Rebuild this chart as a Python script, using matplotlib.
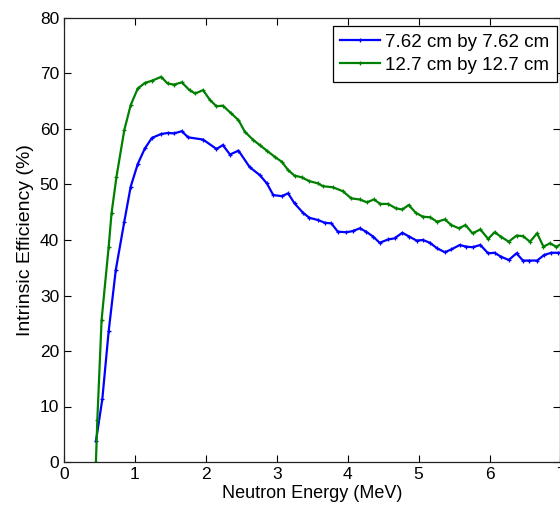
import numpy as np
import matplotlib
matplotlib.use("Agg")
import matplotlib.pyplot as plt

plt.rcParams['font.family'] = ['Liberation Sans', 'DejaVu Sans']

# Intrinsic efficiency (%) vs neutron energy (MeV)
energy_small = [0.45, 0.54, 0.63, 0.73, 0.85, 0.94, 1.04, 1.14, 1.24, 1.37, 1.47, 1.55,
                1.66, 1.75, 1.96, 2.15, 2.24, 2.34, 2.46, 2.62, 2.76, 2.86, 2.95, 3.07,
                3.16, 3.25, 3.37, 3.46, 3.58, 3.68, 3.77, 3.86, 3.98, 4.07, 4.17, 4.26,
                4.36, 4.45, 4.57, 4.66, 4.77, 4.87, 4.97, 5.06, 5.16, 5.26, 5.37, 5.46,
                5.58, 5.67, 5.76, 5.87, 5.98, 6.07, 6.16, 6.27, 6.38, 6.47, 6.56, 6.67,
                6.77, 6.87, 6.96, 7.05]
eff_small = [3.7, 11.3, 23.6, 34.6, 43.3, 49.6, 53.7, 56.5, 58.4, 59.1, 59.3, 59.2,
             59.6, 58.5, 58.1, 56.4, 57.1, 55.4, 56.1, 53.1, 51.7, 50.2, 48.1, 47.9,
             48.4, 46.6, 44.9, 44.0, 43.6, 43.1, 43.0, 41.5, 41.4, 41.6, 42.1, 41.5,
             40.6, 39.5, 40.1, 40.3, 41.3, 40.6, 39.9, 40.0, 39.5, 38.5, 37.8, 38.3,
             39.1, 38.8, 38.7, 39.1, 37.6, 37.7, 37.0, 36.4, 37.6, 36.3, 36.3, 36.3,
             37.3, 37.7, 37.7, 37.7]

energy_large = [0.45, 0.47, 0.53, 0.63, 0.67, 0.74, 0.85, 0.94, 1.04, 1.14, 1.24, 1.37,
                1.46, 1.55, 1.66, 1.77, 1.85, 1.96, 2.06, 2.15, 2.24, 2.35, 2.46, 2.55,
                2.67, 2.76, 2.86, 2.97, 3.07, 3.16, 3.25, 3.35, 3.46, 3.58, 3.65, 3.79,
                3.93, 4.05, 4.17, 4.27, 4.37, 4.46, 4.57, 4.68, 4.77, 4.86, 4.96, 5.06,
                5.16, 5.26, 5.37, 5.46, 5.57, 5.66, 5.76, 5.87, 5.98, 6.07, 6.16, 6.27,
                6.38, 6.47, 6.57, 6.67, 6.76, 6.85, 6.94, 7.05]
eff_large = [0.0, 7.6, 25.6, 38.8, 44.8, 51.4, 59.8, 64.3, 67.3, 68.3, 68.7, 69.4,
             68.2, 68.0, 68.4, 67.0, 66.4, 67.0, 65.2, 64.1, 64.2, 62.9, 61.6, 59.5,
             58.0, 57.1, 56.1, 55.0, 54.1, 52.6, 51.6, 51.3, 50.6, 50.2, 49.7, 49.5,
             48.8, 47.5, 47.3, 46.8, 47.3, 46.5, 46.5, 45.7, 45.5, 46.3, 44.9, 44.2,
             44.1, 43.3, 43.7, 42.7, 42.1, 42.7, 41.2, 41.9, 40.2, 41.4, 40.6, 39.7,
             40.8, 40.7, 39.7, 41.2, 38.8, 39.4, 38.8, 39.5]

labels = ['7.62 cm by 7.62 cm', '12.7 cm by 12.7 cm']

fig = plt.figure(figsize=(5.6, 5.09), dpi=100)
ax = fig.add_axes([64 / 560, 47 / 509, 496.5 / 560, 444 / 509])

ax.plot(energy_small, eff_small, color=(0, 0, 1), lw=1.6, marker='+', ms=3.5, mew=0.9,
        label=labels[0])
ax.plot(energy_large, eff_large, color=(0, 0.5, 0), lw=1.6, marker='+', ms=3.5, mew=0.9,
        label=labels[1])

ax.set_xlim(0, 7)
ax.set_ylim(0, 80)
ax.set_xticks(np.arange(0, 8, 1))
ax.set_yticks(np.arange(0, 90, 10))
ax.tick_params(direction='in', length=5, top=True, right=True, labelsize=12.5, width=0.8)
for s in ax.spines.values():
    s.set_linewidth(0.9)
    s.set_color('#222222')

ax.set_xlabel('Neutron Energy (MeV)', fontsize=13, labelpad=2.5)
ax.set_ylabel('Intrinsic Efficiency (%)', fontsize=14, labelpad=4)

leg = ax.legend(loc='upper right', bbox_to_anchor=(557 / 560, (509 - 26) / 509),
                bbox_transform=fig.transFigure, borderaxespad=0,
                fontsize=13.5, frameon=True, fancybox=False,
                framealpha=1, edgecolor='black',
                handlelength=2.1, handletextpad=0.27, borderpad=0.42, labelspacing=0.3)
leg.get_frame().set_linewidth(0.9)

fig.savefig('out.png', dpi=100)
